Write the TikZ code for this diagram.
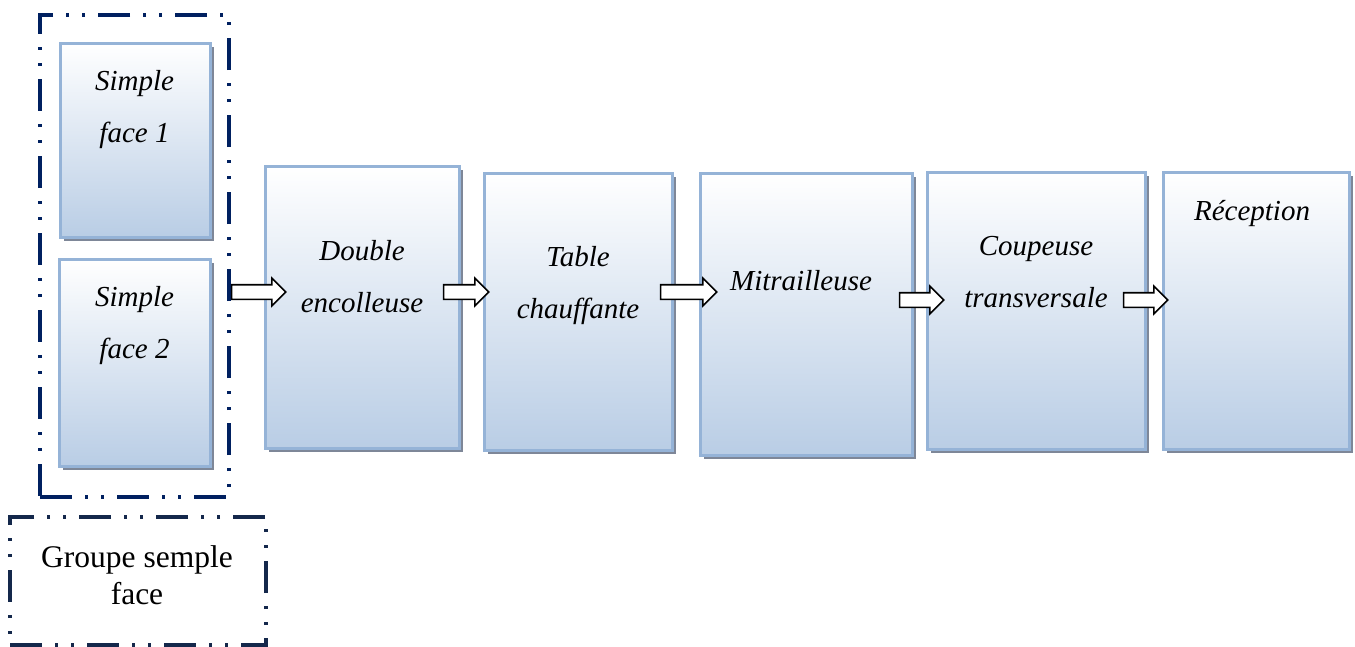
\documentclass[tikz,border=0pt]{standalone}
\usepackage{fontspec}
\setmainfont{Liberation Serif}
\usetikzlibrary{shapes.arrows,fit,shadows}
\definecolor{framenavy}{HTML}{002060}
\definecolor{framedark}{HTML}{14284B}
\definecolor{boxedge}{HTML}{95B3D7}
\definecolor{boxfill}{HTML}{B9CDE5}
\definecolor{boxshadow}{HTML}{7E8798}
\tikzset{
  stage/.style={draw=boxedge, line width=3pt, top color=white, bottom color=boxfill,
    inner sep=0pt, general shadow={shadow xshift=4pt, shadow yshift=-4pt, fill=boxshadow}},
  % multi-line labels are anchored at the baseline of their last line
  stagetext/.style={font=\fontsize{29}{52}\selectfont\itshape, align=center, anchor=base, inner sep=0pt},
  dashframe/.style={line width=4pt, inner sep=0pt, line cap=butt,
    dash pattern=on 32pt off 13pt on 3pt off 13pt on 3pt off 13pt},
  blockarrow/.style={single arrow, draw=black, fill=white, line width=1.6pt,
    inner xsep=0pt, inner ysep=6.5pt, minimum width=0pt,
    single arrow head extend=6.5pt, single arrow tip angle=90}
}
\begin{document}
\begin{tikzpicture}[x=1pt,y=-1pt]
\useasboundingbox (0,0) rectangle (1355,646);

% single-face group
\node[stage, fit={(60,43)(210,237)}] (sf1) {};
\node[stage, fit={(59,259)(210,466)}] (sf2) {};
\node[stagetext] (sf1t) at (134.5,142) {Simple\\face 1};
\node[stagetext] (sf2t) at (134.5,358) {Simple\\face 2};
\node[dashframe, draw=framenavy, fit={(40,15)(229,497)}] (grp) {};

% group caption
\node[dashframe, draw=framedark, fit={(10,517)(266,645)}] (cap) {};
\node[font=\fontsize{31.5}{37}\selectfont, align=center, anchor=base, inner sep=0pt]
  (capt) at (137,604) {Groupe semple\\face};

% production line
\node[stage, fit={(265,166)(459,448)}] (dbl) {};
\node[stage, fit={(484,173)(672,450)}] (tab) {};
\node[stage, fit={(700,173)(912,455)}] (mit) {};
\node[stage, fit={(927,172)(1145,449)}] (cou) {};
\node[stage, fit={(1163,172)(1349,449)}] (rec) {};

\node[stagetext] (dblt) at (362,312) {Double\\encolleuse};
\node[stagetext] (tabt) at (578,318) {Table\\chauffante};
\node[stagetext] (mitt) at (801,290) {Mitrailleuse};
\node[stagetext] (cout) at (1036,307) {Coupeuse\\transversale};
\node[stagetext] (rect) at (1252,220) {Réception};

% flow arrows
\node[blockarrow, minimum height=54pt] (a1) at (255,292) {};
\node[blockarrow, minimum height=45pt] (a2) at (462.5,292) {};
\node[blockarrow, minimum height=56pt] (a3) at (685,292) {};
\node[blockarrow, minimum height=44pt] (a4) at (918,300) {};
\node[blockarrow, minimum height=44pt] (a5) at (1142,300) {};
\end{tikzpicture}
\end{document}
